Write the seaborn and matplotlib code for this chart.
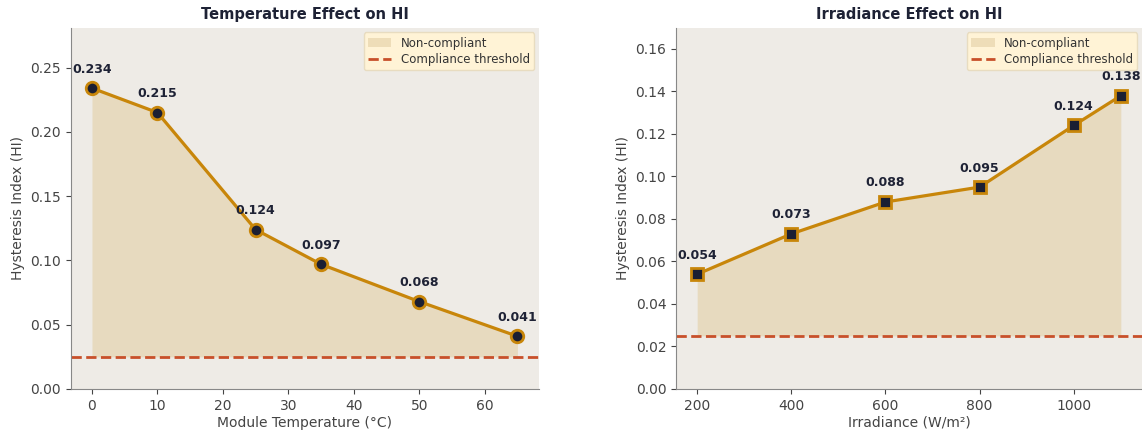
import numpy as np
import pandas as pd
import matplotlib
matplotlib.use("Agg")
import matplotlib.pyplot as plt
import seaborn as sns

# Data
temperature = [0, 10, 25, 35, 50, 65]
hi_temperature = [0.234, 0.215, 0.124, 0.097, 0.068, 0.041]

irradiance = [200, 400, 600, 800, 1000, 1100]
hi_irradiance = [0.054, 0.073, 0.088, 0.095, 0.124, 0.138]

threshold = 0.025

df_temp = pd.DataFrame({"x": temperature, "hi": hi_temperature})
df_irr = pd.DataFrame({"x": irradiance, "hi": hi_irradiance})

sns.set_style("ticks")
plt.rcParams['font.family'] = ['DejaVu Sans']

line_color = "#C8860A"
marker_color = "#1B1F33"
fill_color = "#E3CFA5"
thresh_color = "#C8502A"
bg_color = "#EEEBE6"
text_color = "#1E2235"

fig = plt.figure(figsize=(11.42, 4.3), dpi=100)
W, H = 1142, 430
ax1 = fig.add_axes([70.7 / W, (H - 389) / H, 468 / W, 361.3 / H])
ax2 = fig.add_axes([676 / W, (H - 389) / H, 466 / W, 361.3 / H])

panels = [
    (ax1, df_temp, "o", "Temperature Effect on HI", "Module Temperature (°C)", 0.281),
    (ax2, df_irr, "s", "Irradiance Effect on HI", "Irradiance (W/m²)", 0.17),
]

for ax, df, marker, title, xlabel, ytop in panels:
    ax.set_facecolor(bg_color)
    ax.fill_between(df["x"], threshold, df["hi"], color=fill_color, alpha=0.6,
                    linewidth=0, label="Non-compliant", zorder=1)
    ax.axhline(threshold, color=thresh_color, linestyle="--", linewidth=2,
               label="Compliance threshold", zorder=2)
    sns.lineplot(data=df, x="x", y="hi", ax=ax, color=line_color, linewidth=2.3,
                 marker=marker, markersize=9, markerfacecolor=marker_color,
                 markeredgecolor=line_color, markeredgewidth=2, zorder=3)
    for xv, yv in zip(df["x"], df["hi"]):
        ax.annotate(f"{yv:.3f}", (xv, yv), xytext=(0, 9), textcoords="offset points",
                    ha="center", va="bottom", fontsize=9, fontweight="bold",
                    color=text_color, zorder=4)
    ax.set_ylim(0, ytop)
    ax.set_title(title, fontsize=10.5, fontweight="bold", color=text_color, pad=6)
    ax.set_xlabel(xlabel, fontsize=10, color="#444444", labelpad=2)
    ax.set_ylabel("Hysteresis Index (HI)", fontsize=10, color="#444444")
    ax.tick_params(colors="#444444", labelsize=10)
    sns.despine(ax=ax)
    for s in ["left", "bottom"]:
        ax.spines[s].set_color("#888888")
    leg = ax.legend(loc="upper right", fontsize=8.5, frameon=True,
                    facecolor="#FFF3D6", edgecolor="#E8DCC0", framealpha=1,
                    labelspacing=0.3, borderpad=0.35, borderaxespad=0.4)
    for t in leg.get_texts():
        t.set_color("#333333")

ax2.set_xticks([200, 400, 600, 800, 1000])

fig.savefig("out.png", dpi=100, facecolor="white")
